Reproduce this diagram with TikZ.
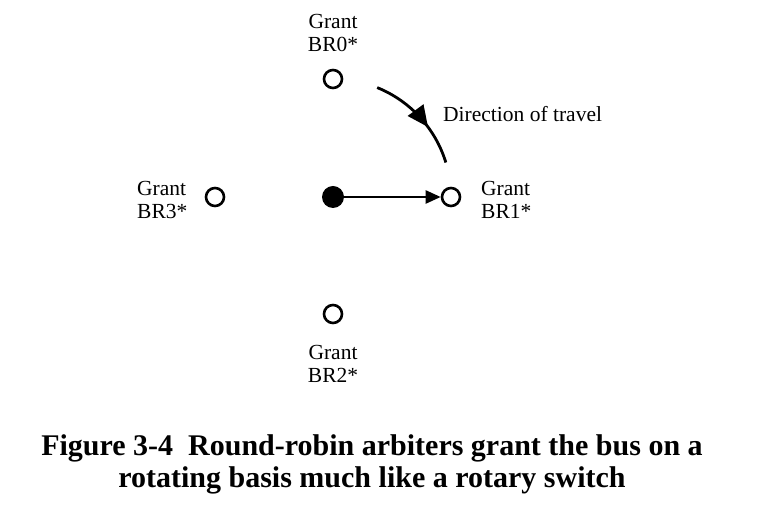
\documentclass[tikz,border=0pt]{standalone}
\usepackage{fontspec}
\setmainfont{Liberation Serif}
\usetikzlibrary{arrows.meta,positioning,decorations.markings}
\definecolor{inkcol}{RGB}{0,0,0}
\newcommand{\grantlbl}[1]{Grant\\BR#1*}

\begin{document}
\begin{tikzpicture}[x=1pt, y=1pt, font=\fontsize{21.5}{22.5}\selectfont,
    grantpt/.style={circle, draw=inkcol, line width=2.6pt, minimum size=18pt, inner sep=0pt},
    hubpt/.style={circle, fill=inkcol, minimum size=22pt, inner sep=0pt},
    pointer/.style={inkcol, line width=2.4pt, -{Triangle[length=15pt, width=13pt]}},
    travel/.style={inkcol, line width=2.8pt, postaction={decorate},
      decoration={markings, mark=at position 0.62 with {\arrow{Triangle[length=21pt, width=19pt]}}}}]
        \useasboundingbox (0,0) rectangle (777,519);
        % the rotary switch
        \node[hubpt] (hub) at (333,322) {};
        \foreach \nm/\px/\py in {br0/333/440, br1/451/322, br2/333/205, br3/215/322}
          \node[grantpt] (\nm) at (\px,\py) {};
        \draw[pointer] (hub) -- (br1);
        \draw[travel] (hub.center) ++(68:118) arc[start angle=68, end angle=17, radius=118];
        % labels
        \node[align=center] (lbl0) at (333,486) {\grantlbl{0}};
        \node[align=left, anchor=west, inner sep=0pt] (lbl1) at (481,319) {\grantlbl{1}};
        \node[align=center] (lbl2) at (333,155) {\grantlbl{2}};
        \node[align=left, anchor=west, inner sep=0pt] (lbl3) at (137,319) {\grantlbl{3}};
        \node[anchor=west, inner sep=0pt] (dir) at (443,405) {Direction of travel};
        % caption
        \node[align=center, font=\bfseries\fontsize{30}{32}\selectfont] (cap) at (372,55)
          {Figure 3-4\ \ Round-robin arbiters grant the bus on a\\rotating basis much like a rotary switch};
\end{tikzpicture}
\end{document}
